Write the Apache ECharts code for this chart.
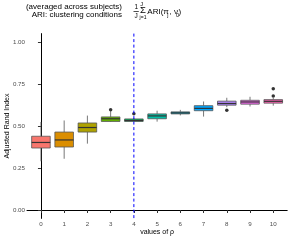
<!DOCTYPE html>
<html>
<head>
<meta charset="utf-8">
<script src="https://cdn.jsdelivr.net/npm/echarts@6/dist/echarts.min.js"></script>
<style>html,body{margin:0;padding:0;background:#fff}#c{width:291px;height:242px}</style>
</head>
<body>
<div id="c"></div>
<script>
// ---- data ----
var categories = [0, 1, 2, 3, 4, 5, 6, 7, 8, 9, 10];
var whiskerLow  = [0.290, 0.305, 0.395, 0.524, 0.524, 0.526, 0.563, 0.556, 0.612, 0.616, 0.621];
var q1Values    = [0.369, 0.375, 0.464, 0.527, 0.527, 0.543, 0.572, 0.591, 0.624, 0.630, 0.636];
var medianVals  = [0.402, 0.417, 0.491, 0.543, 0.533, 0.560, 0.578, 0.605, 0.634, 0.643, 0.647];
var q3Values    = [0.439, 0.464, 0.518, 0.554, 0.542, 0.572, 0.584, 0.621, 0.648, 0.653, 0.657];
var whiskerHigh = [0.524, 0.533, 0.562, 0.588, 0.548, 0.591, 0.596, 0.646, 0.668, 0.674, 0.667];
var outlierX    = [3, 4, 8, 10, 10];
var outlierY    = [0.596, 0.573, 0.594, 0.679, 0.722];
var yTicks      = [0, 0.25, 0.5, 0.75, 1];
var referenceRho = [4];

var palette = ['#F8766D','#DB8E00','#AEA200','#64B200','#00BD5C','#00C1A7','#00BADE','#00A6FF','#B385FF','#EF67EB','#FF63B6'];

var boxData = categories.map(function (c, i) {
  return [c, whiskerLow[i], q1Values[i], medianVals[i], q3Values[i], whiskerHigh[i]];
});
var outlierData = outlierX.map(function (x, i) { return [x, outlierY[i]]; });

var FONT = '"Liberation Sans", Arial, sans-serif';
var chart = echarts.init(document.getElementById('c'), null, {renderer: 'canvas'});

chart.setOption({
  animation: false,
  backgroundColor: '#fff',
  grid: {left: 27, right: 3.8, top: 33.6, bottom: 23.6, containLabel: false, outerBoundsMode: 'none'},
  xAxis: {
    type: 'value', min: -0.6, max: 10.6,
    name: 'values of ρ', nameLocation: 'middle', nameGap: 10.5, nameMoveOverlap: false,
    nameTextStyle: {fontSize: 7, color: '#000', fontFamily: FONT},
    axisLine: {show: true, lineStyle: {color: '#000', width: 1}},
    axisTick: {show: true, length: 3, lineStyle: {color: '#333'}, customValues: categories},
    axisLabel: {show: true, fontSize: 6.2, color: '#4d4d4d', margin: 2.5, fontFamily: FONT,
      customValues: categories, formatter: function (v) { return String(v); }},
    splitLine: {show: false}
  },
  yAxis: {
    type: 'value', min: -0.05, max: 1.05,
    name: 'Adjusted Rand Index', nameLocation: 'middle', nameGap: 16.5, nameMoveOverlap: false,
    nameTextStyle: {fontSize: 7, color: '#000', fontFamily: FONT},
    axisLine: {show: true, lineStyle: {color: '#000', width: 1}},
    axisTick: {show: true, length: 3, lineStyle: {color: '#333'}, customValues: yTicks},
    axisLabel: {show: true, fontSize: 6.2, color: '#4d4d4d', margin: 2, fontFamily: FONT,
      customValues: yTicks, formatter: function (v) { return v.toFixed(2); }},
    splitLine: {show: false}
  },
  series: [
    {
      type: 'custom',
      data: boxData,
      encode: {x: 0, y: [1, 2, 3, 4, 5]},
      renderItem: function (params, api) {
        var x = api.value(0);
        var pLo = api.coord([x, api.value(1)]);
        var pQ1 = api.coord([x, api.value(2)]);
        var pMd = api.coord([x, api.value(3)]);
        var pQ3 = api.coord([x, api.value(4)]);
        var pHi = api.coord([x, api.value(5)]);
        var hw = api.size([0.8, 0])[0] / 2;
        var stroke = '#555';
        return {
          type: 'group',
          children: [
            {type: 'line', shape: {x1: pLo[0], y1: pLo[1], x2: pQ1[0], y2: pQ1[1]}, style: {stroke: stroke, lineWidth: 0.8}},
            {type: 'line', shape: {x1: pQ3[0], y1: pQ3[1], x2: pHi[0], y2: pHi[1]}, style: {stroke: stroke, lineWidth: 0.8}},
            {type: 'rect', shape: {x: pQ3[0] - hw, y: pQ3[1], width: 2 * hw, height: pQ1[1] - pQ3[1]},
              style: {fill: palette[params.dataIndex], stroke: stroke, lineWidth: 0.8}},
            {type: 'line', shape: {x1: pMd[0] - hw, y1: pMd[1], x2: pMd[0] + hw, y2: pMd[1]}, style: {stroke: '#333', lineWidth: 1.2}}
          ]
        };
      },
      z: 2
    },
    {
      type: 'scatter',
      data: outlierData,
      symbol: 'circle', symbolSize: 3.5,
      itemStyle: {color: '#000'},
      z: 3
    },
    {
      type: 'custom',
      data: referenceRho.map(function (v) { return [v]; }),
      encode: {x: 0},
      silent: true,
      renderItem: function (params, api) {
        var x = api.value(0);
        var top = api.coord([x, 1.05]);
        var bot = api.coord([x, -0.05]);
        return {type: 'line', shape: {x1: top[0], y1: top[1], x2: bot[0], y2: bot[1]},
          style: {stroke: '#0000ff', lineWidth: 1, lineDash: [3, 2.5]}};
      },
      z: 4
    }
  ],
  graphic: [
    {type: 'text', x: 122, y: 6.3, style: {text: '(averaged across subjects)', fontSize: 8, fontFamily: FONT, fill: '#000', textAlign: 'right', textVerticalAlign: 'middle'}},
    {type: 'text', x: 122, y: 14.8, style: {text: 'ARI: clustering conditions', fontSize: 8, fontFamily: FONT, fill: '#000', textAlign: 'right', textVerticalAlign: 'middle'}},
    {type: 'text', x: 136.3, y: 6.8, style: {text: '1', fontSize: 6.5, fontFamily: FONT, fill: '#000', textAlign: 'center', textVerticalAlign: 'middle'}},
    {type: 'line', shape: {x1: 133.5, y1: 11.5, x2: 138.8, y2: 11.5}, style: {stroke: '#000', lineWidth: 0.7}},
    {type: 'text', x: 136.2, y: 16, style: {text: 'J', fontSize: 6.5, fontFamily: FONT, fill: '#000', textAlign: 'center', textVerticalAlign: 'middle'}},
    {type: 'text', x: 141.6, y: 4, style: {text: 'J', fontSize: 5.5, fontFamily: FONT, fill: '#000', textAlign: 'center', textVerticalAlign: 'middle'}},
    {type: 'text', x: 143, y: 10.8, style: {text: 'Σ', fontSize: 9.5, fontFamily: FONT, fill: '#000', textAlign: 'center', textVerticalAlign: 'middle'}},
    {type: 'text', x: 143, y: 17.5, style: {text: 'j=1', fontSize: 5, fontFamily: FONT, fill: '#000', textAlign: 'center', textVerticalAlign: 'middle'}},
    {type: 'text', x: 147.3, y: 11.8, style: {text: 'ARI(π', fontSize: 8, fontFamily: FONT, fill: '#000', textAlign: 'left', textVerticalAlign: 'middle'}},
    {type: 'text', x: 167.3, y: 15.5, style: {text: 'j', fontSize: 5.5, fontFamily: FONT, fill: '#000', textAlign: 'left', textVerticalAlign: 'middle'}},
    {type: 'text', x: 169.5, y: 11.8, style: {text: ', ν', fontSize: 8, fontFamily: FONT, fill: '#000', textAlign: 'left', textVerticalAlign: 'middle'}},
    {type: 'text', x: 176, y: 15.3, style: {text: '0', fontSize: 5.5, fontFamily: FONT, fill: '#000', textAlign: 'left', textVerticalAlign: 'middle'}},
    {type: 'text', x: 178.5, y: 11.8, style: {text: ')', fontSize: 8, fontFamily: FONT, fill: '#000', textAlign: 'left', textVerticalAlign: 'middle'}}
  ]
});
</script>
</body>
</html>
